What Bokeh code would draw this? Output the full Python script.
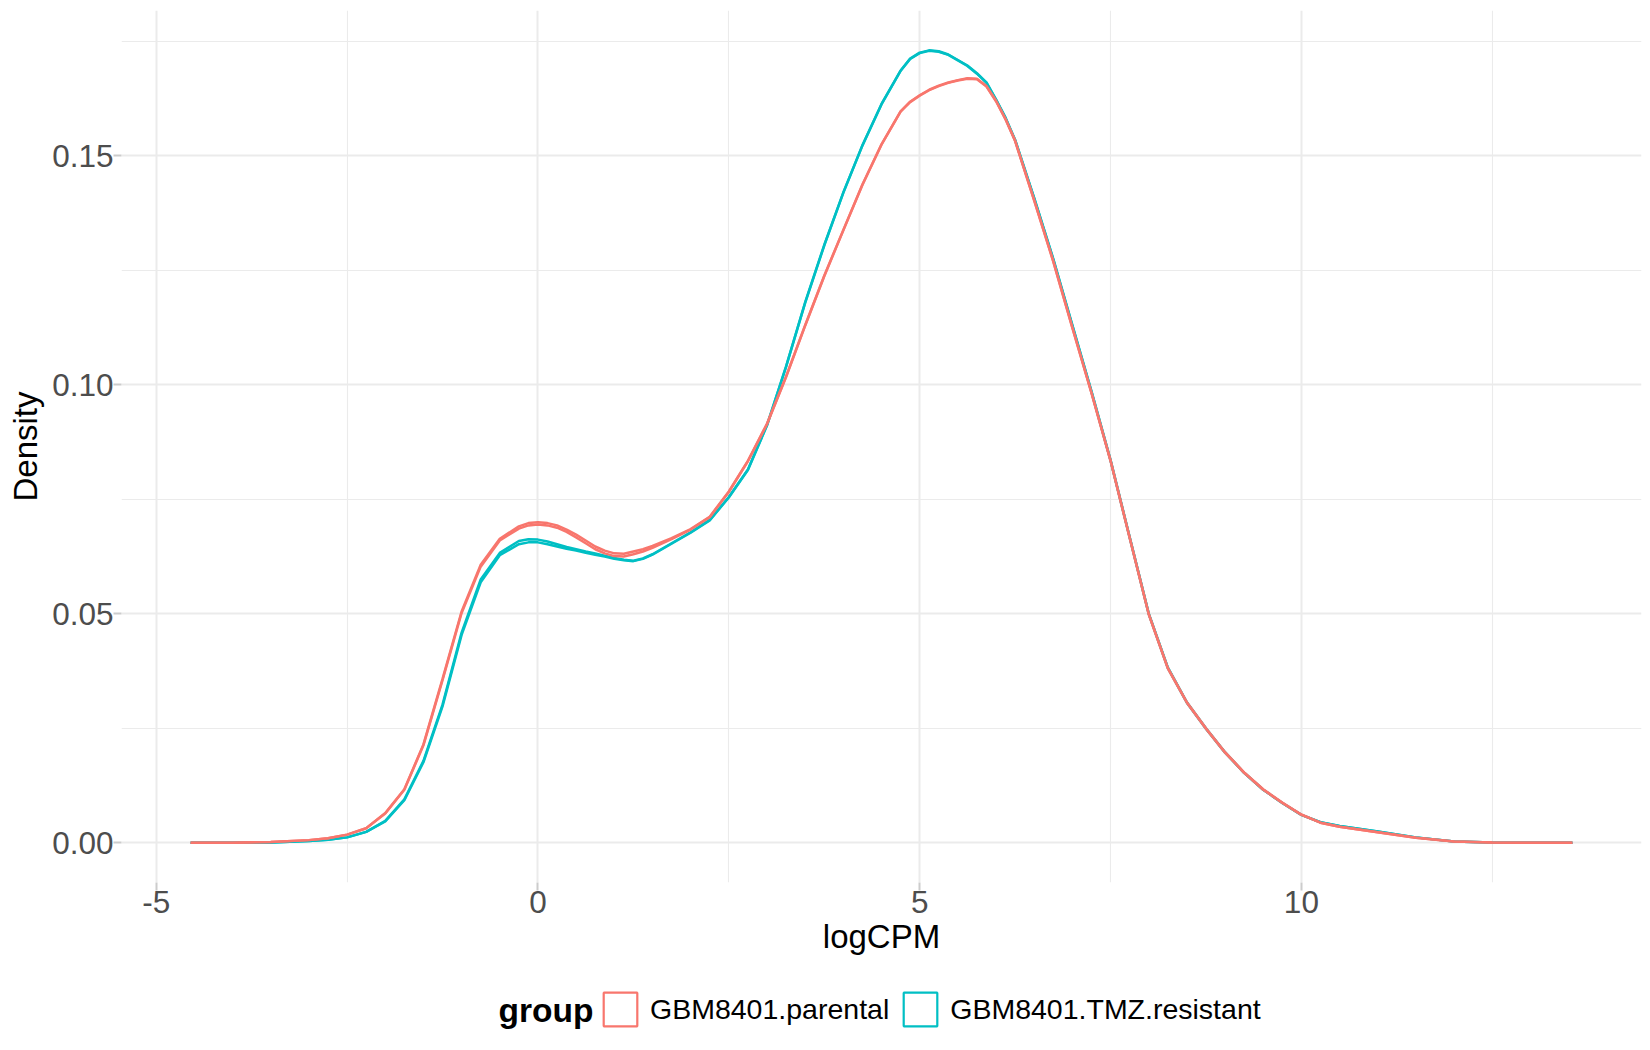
from bokeh.plotting import figure
from bokeh.layouts import column
from bokeh.models import (FixedTicker, PrintfTickFormatter, Legend, LegendItem,
                          Label, Range1d, ColumnDataSource)
from bokeh.embed import file_html
from bokeh.resources import INLINE

# ---------------- data ----------------
group_labels = ["GBM8401.parental", "GBM8401.TMZ.resistant"]
group_colors = ["#F8766D", "#00BFC4"]
legend_title = "group"

x_ticks = [-5, 0, 5, 10]
x_minor = [-2.5, 2.5, 7.5, 12.5]
y_ticks = [0.0, 0.05, 0.10, 0.15]
y_minor = [0.025, 0.075, 0.125, 0.175]

logcpm = [-4.55, -4.0, -3.5, -3.0, -2.75, -2.5, -2.25, -2.0, -1.75, -1.5,
          -1.25, -1.0, -0.75, -0.5, -0.25, -0.125, 0.0, 0.125, 0.25, 0.375,
          0.5, 0.625, 0.75, 0.875, 1.0, 1.125, 1.25, 1.375, 1.5, 1.75,
          2.0, 2.25, 2.5, 2.75, 3.0, 3.25, 3.5, 3.75, 4.0, 4.25,
          4.5, 4.75, 4.875, 5.0, 5.125, 5.25, 5.375, 5.5, 5.625, 5.75,
          5.875, 6.0, 6.125, 6.25, 6.5, 6.75, 7.0, 7.25, 7.5, 7.75,
          8.0, 8.25, 8.5, 8.75, 9.0, 9.25, 9.5, 9.75, 10.0, 10.25,
          10.5, 10.75, 11.0, 11.5, 12.0, 12.5, 13.0, 13.55]

parental_1 = [0.0000, 0.0000, 0.0002, 0.0006, 0.0010, 0.0018, 0.0032, 0.0065, 0.0117, 0.0215,
              0.0358, 0.0505, 0.0607, 0.0664, 0.0691, 0.0698, 0.0700, 0.0698, 0.0693, 0.0684,
              0.0673, 0.0660, 0.0647, 0.0638, 0.0632, 0.0631, 0.0636, 0.0641, 0.0648, 0.0665,
              0.0685, 0.0712, 0.0767, 0.0834, 0.0915, 0.1018, 0.1130, 0.1238, 0.1338, 0.1437,
              0.1525, 0.1597, 0.1618, 0.1632, 0.1644, 0.1653, 0.1660, 0.1665, 0.1669, 0.1668,
              0.1652, 0.1620, 0.1580, 0.1533, 0.1403, 0.1270, 0.1125, 0.0983, 0.0835, 0.0667,
              0.0500, 0.0382, 0.0307, 0.0250, 0.0198, 0.0154, 0.0117, 0.0088, 0.0062, 0.0044,
              0.0035, 0.0029, 0.0023, 0.0011, 0.0003, 0.0001, 0.0000, 0.0000]

parental_2 = [0.0000, 0.0000, 0.0002, 0.0006, 0.0010, 0.0018, 0.0032, 0.0064, 0.0116, 0.0213,
              0.0355, 0.0502, 0.0603, 0.0660, 0.0686, 0.0693, 0.0695, 0.0693, 0.0688, 0.0679,
              0.0667, 0.0654, 0.0641, 0.0632, 0.0626, 0.0625, 0.0630, 0.0636, 0.0644, 0.0663,
              0.0684, 0.0711, 0.0766, 0.0833, 0.0914, 0.1017, 0.1129, 0.1237, 0.1337, 0.1436,
              0.1524, 0.1596, 0.1617, 0.1631, 0.1643, 0.1652, 0.1659, 0.1664, 0.1668, 0.1667,
              0.1651, 0.1619, 0.1579, 0.1532, 0.1402, 0.1269, 0.1124, 0.0982, 0.0834, 0.0666,
              0.0499, 0.0381, 0.0306, 0.0249, 0.0197, 0.0153, 0.0116, 0.0087, 0.0061, 0.0044,
              0.0035, 0.0029, 0.0023, 0.0011, 0.0003, 0.0001, 0.0000, 0.0000]

resistant_1 = [0.0000, 0.0000, 0.0001, 0.0004, 0.0007, 0.0012, 0.0024, 0.0048, 0.0095, 0.0179,
               0.0302, 0.0459, 0.0575, 0.0633, 0.0659, 0.0663, 0.0662, 0.0658, 0.0652, 0.0646,
               0.0641, 0.0636, 0.0632, 0.0627, 0.0622, 0.0618, 0.0616, 0.0621, 0.0630, 0.0654,
               0.0678, 0.0705, 0.0755, 0.0815, 0.0912, 0.1040, 0.1180, 0.1305, 0.1420, 0.1523,
               0.1613, 0.1686, 0.1712, 0.1725, 0.1730, 0.1728, 0.1721, 0.1709, 0.1697, 0.1680,
               0.1660, 0.1623, 0.1583, 0.1535, 0.1408, 0.1275, 0.1130, 0.0986, 0.0836, 0.0668,
               0.0501, 0.0383, 0.0307, 0.0250, 0.0198, 0.0153, 0.0116, 0.0087, 0.0061, 0.0045,
               0.0037, 0.0031, 0.0025, 0.0012, 0.0003, 0.0001, 0.0000, 0.0000]

resistant_2 = [0.0000, 0.0000, 0.0001, 0.0004, 0.0007, 0.0012, 0.0024, 0.0047, 0.0093, 0.0176,
               0.0298, 0.0454, 0.0569, 0.0628, 0.0652, 0.0656, 0.0656, 0.0652, 0.0647, 0.0642,
               0.0638, 0.0633, 0.0629, 0.0625, 0.0620, 0.0617, 0.0615, 0.0620, 0.0629, 0.0653,
               0.0677, 0.0704, 0.0754, 0.0814, 0.0911, 0.1039, 0.1179, 0.1304, 0.1419, 0.1522,
               0.1612, 0.1685, 0.1711, 0.1724, 0.1729, 0.1727, 0.1720, 0.1708, 0.1696, 0.1679,
               0.1659, 0.1622, 0.1582, 0.1534, 0.1407, 0.1274, 0.1129, 0.0985, 0.0835, 0.0667,
               0.0500, 0.0382, 0.0306, 0.0249, 0.0197, 0.0153, 0.0116, 0.0087, 0.0061, 0.0045,
               0.0037, 0.0031, 0.0025, 0.0012, 0.0003, 0.0001, 0.0000, 0.0000]

# ---------------- styling ----------------
FONT = "Liberation Sans"
GRID = "#EBEBEB"

source = ColumnDataSource(dict(logcpm=logcpm, parental_1=parental_1, parental_2=parental_2,
                               resistant_1=resistant_1, resistant_2=resistant_2))

p = figure(width=1648, height=966, output_backend="svg", toolbar_location=None,
           x_range=Range1d(-5.455, 14.455), y_range=Range1d(-0.00865, 0.1817),
           min_border_left=121, min_border_right=7, min_border_top=10, min_border_bottom=84)

p.background_fill_color = "white"
p.border_fill_color = "white"
p.outline_line_color = None

xt = FixedTicker(ticks=x_ticks, minor_ticks=x_minor)
yt = FixedTicker(ticks=y_ticks, minor_ticks=y_minor)
p.xaxis.ticker = xt
p.yaxis.ticker = yt
p.xgrid.ticker = xt
p.ygrid.ticker = yt
p.xaxis.formatter = PrintfTickFormatter(format="%d")
p.yaxis.formatter = PrintfTickFormatter(format="%.2f")

for g in (p.xgrid, p.ygrid):
    g.grid_line_color = GRID
    g.grid_line_width = 2
    g.minor_grid_line_color = GRID
    g.minor_grid_line_width = 1.1

for ax in (p.xaxis, p.yaxis):
    ax.axis_line_color = None
    ax.major_tick_line_color = "#CCCCCC"
    ax.major_tick_line_width = 2
    ax.major_tick_in = 0
    ax.major_tick_out = 8
    ax.minor_tick_in = 0
    ax.minor_tick_out = 0
    ax.minor_tick_line_color = None
    ax.major_label_text_font = FONT
    ax.major_label_text_font_size = "31.5px"
    ax.major_label_text_color = "#4D4D4D"
    ax.axis_label_text_font = FONT
    ax.axis_label_text_font_size = "33px"
    ax.axis_label_text_font_style = "normal"
    ax.axis_label_text_color = "black"

p.xaxis.axis_label = "logCPM"
p.yaxis.axis_label = "Density"
p.xaxis.major_label_standoff = 0
p.xaxis.axis_label_standoff = 2
p.yaxis.major_label_standoff = 0
p.yaxis.axis_label_standoff = 5

# curves: resistant first, parental on top
for col in ("resistant_1", "resistant_2"):
    p.line("logcpm", col, source=source, line_color=group_colors[1], line_width=2.5)
for col in ("parental_1", "parental_2"):
    p.line("logcpm", col, source=source, line_color=group_colors[0], line_width=2.5)

# ---------------- legend strip below the plot ----------------
lg = figure(width=1648, height=74, output_backend="svg", toolbar_location=None,
            x_range=Range1d(0, 1), y_range=Range1d(0, 1),
            x_axis_type=None, y_axis_type=None, min_border=0)
lg.outline_line_color = None
lg.background_fill_color = "white"
lg.border_fill_color = "white"

proxy_par = lg.patch("logcpm", "parental_1", source=source, fill_color=None,
                     line_color=group_colors[0], line_width=2.2, visible=False)
proxy_res = lg.patch("logcpm", "resistant_1", source=source, fill_color=None,
                     line_color=group_colors[1], line_width=2.2, visible=False)

legend = Legend(items=[LegendItem(label=group_labels[0], renderers=[proxy_par]),
                       LegendItem(label=group_labels[1], renderers=[proxy_res])],
                orientation="horizontal", location=(478, 10),
                glyph_width=42, glyph_height=42, label_standoff=9, spacing=10,
                padding=0, margin=0, border_line_color=None,
                background_fill_color=None, background_fill_alpha=0,
                label_text_font=FONT, label_text_font_size="28.5px",
                label_text_color="black")
lg.add_layout(legend, "center")

title_lbl = Label(x=377, y=30, x_units="screen", y_units="screen", text=legend_title,
                  text_font=FONT, text_font_size="33.5px", text_font_style="bold",
                  text_baseline="alphabetic", text_align="left", text_color="black")
lg.add_layout(title_lbl)

layout = column(p, lg, spacing=0)
open("out.html", "w").write(file_html(layout, INLINE))
